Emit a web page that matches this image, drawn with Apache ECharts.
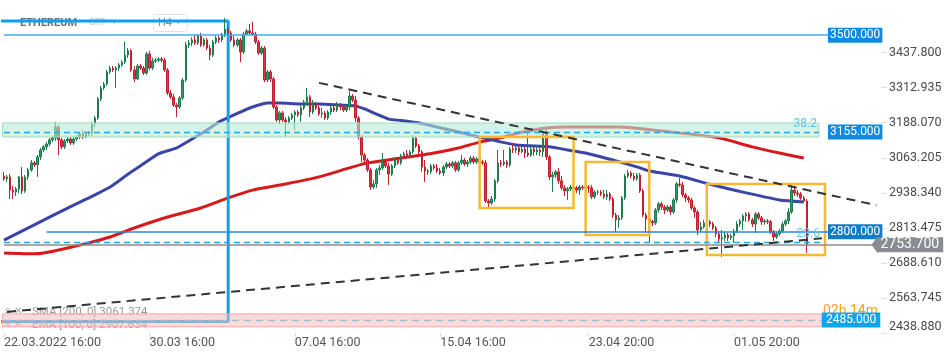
<!DOCTYPE html>
<html><head><meta charset="utf-8">
<script src="https://cdn.jsdelivr.net/npm/echarts@6/dist/echarts.min.js"></script>
<style>html,body{margin:0;padding:0;background:#fff}#c{width:950px;height:358px}</style>
</head><body><div id="c"></div>
<script>
// ---------- data ----------
const slotCount = 290; // H4 slots incl. empty area on the right
const tickLabels = ['22.03.2022 16:00','30.03 16:00','07.04 16:00','15.04 16:00','23.04 20:00','01.05 20:00'];
const yTicks = [2438.88,2563.745,2688.61,2813.475,2938.34,3063.205,3188.07,3312.935,3437.8];

const opens = [
2998,2988,2995,2948,2941,2952,2995,2945,2995,3020,
3045,3038,3066,3091,3102,3112,3127,3134,3173,3127,
3102,3123,3130,3116,3130,3137,3148,3137,3148,3152,
3184,3205,3273,3312,3326,3369,3383,3376,3383,3394,
3404,3429,3444,3376,3344,3390,3383,3365,3433,3383,
3408,3411,3415,3411,3376,3294,3280,3251,3244,3276,
3340,3465,3472,3483,3472,3497,3465,3483,3454,3429,
3476,3490,3483,3501,3522,3508,3483,3465,3483,3440,
3504,3515,3508,3504,3476,3436,3454,3340,3369,3344,
3244,3198,3223,3198,3191,3205,3216,3226,3216,3241,
3262,3280,3226,3255,3241,3219,3223,3205,3226,3241,
3233,3251,3244,3233,3244,3283,3269,3205,3137,3073,
3055,3020,2959,2970,3020,3027,3048,3034,3005,3034,
3055,3045,3070,3077,3070,3084,3134,3105,3084,3030,
3016,3013,3034,3027,3016,3009,3030,3041,3034,3045,
3020,3045,3055,3041,3048,3062,3048,3059,3048,3045,
2909,2902,2916,2981,3045,3041,3048,3038,3094,3091,
3098,3084,3094,3080,3073,3094,3084,3091,3084,3152,
3066,2995,3002,3013,2981,2956,2945,2952,2959,2956,
2948,2959,2956,2959,2956,2924,2941,2941,2934,2924,
2934,2916,2859,2842,2849,2920,2998,3009,2998,2988,
3002,2945,2859,2845,2835,2831,2877,2899,2888,2877,
2888,2870,2913,2970,2966,2931,2920,2913,2884,2870,
2806,2817,2831,2835,2827,2813,2792,2774,2778,2788,
2778,2785,2802,2827,2838,2856,2863,2842,2827,2863,
2849,2835,2838,2835,2799,2781,2792,2802,2827,2838,
2870,2948,2938,2934,2920,2909];
const closes = [
2988,2995,2948,2941,2952,2995,2945,2995,3020,3045,
3038,3066,3091,3102,3112,3127,3134,3173,3127,3102,
3123,3130,3116,3130,3137,3148,3137,3148,3152,3184,
3205,3273,3312,3326,3369,3383,3376,3383,3394,3404,
3429,3444,3376,3344,3390,3383,3365,3433,3383,3408,
3411,3415,3411,3376,3294,3280,3251,3244,3276,3340,
3465,3472,3483,3472,3497,3465,3483,3454,3429,3476,
3490,3483,3501,3522,3508,3483,3465,3483,3440,3504,
3515,3508,3504,3476,3436,3454,3340,3369,3344,3244,
3198,3223,3198,3191,3205,3216,3226,3216,3241,3262,
3280,3226,3255,3241,3219,3223,3205,3226,3241,3233,
3251,3244,3233,3244,3283,3269,3205,3137,3073,3055,
3020,2959,2970,3020,3027,3048,3034,3005,3034,3055,
3045,3070,3077,3070,3084,3134,3105,3084,3030,3016,
3013,3034,3027,3016,3009,3030,3041,3034,3045,3020,
3045,3055,3041,3048,3062,3048,3059,3048,3045,2909,
2902,2916,2981,3045,3041,3048,3038,3094,3091,3098,
3084,3094,3080,3073,3094,3084,3091,3084,3152,3066,
2995,3002,3013,2981,2956,2945,2952,2959,2956,2948,
2959,2956,2959,2956,2924,2941,2941,2934,2924,2934,
2916,2859,2842,2849,2920,2998,3009,2998,2988,3002,
2945,2859,2845,2835,2831,2877,2899,2888,2877,2888,
2870,2913,2970,2966,2931,2920,2913,2884,2870,2806,
2817,2831,2835,2827,2813,2792,2774,2778,2788,2778,
2785,2802,2827,2838,2856,2863,2842,2827,2863,2849,
2835,2838,2835,2799,2781,2792,2802,2827,2838,2870,
2948,2938,2934,2920,2909,2753.7];
const highs = [
3013,3002,3005,2963,2959,2998,3030,3002,3027,3055,
3052,3073,3098,3109,3119,3134,3141,3191,3180,3134,
3130,3137,3137,3137,3144,3155,3159,3155,3159,3191,
3212,3280,3319,3333,3376,3390,3390,3390,3401,3411,
3476,3454,3451,3390,3397,3397,3390,3440,3444,3419,
3419,3422,3422,3419,3383,3305,3290,3258,3283,3347,
3476,3483,3493,3501,3504,3508,3490,3490,3465,3483,
3497,3497,3508,3561,3529,3515,3497,3490,3490,3511,
3522,3540,3547,3511,3483,3461,3461,3376,3376,3351,
3251,3230,3230,3208,3212,3223,3233,3233,3248,3269,
3312,3287,3269,3262,3248,3241,3230,3233,3248,3248,
3262,3258,3251,3251,3301,3290,3283,3212,3144,3080,
3062,3027,2984,3027,3038,3080,3055,3045,3041,3062,
3062,3077,3084,3091,3091,3144,3141,3112,3091,3055,
3023,3041,3041,3041,3027,3038,3048,3048,3052,3052,
3052,3073,3062,3055,3070,3070,3066,3070,3055,3055,
2916,2927,2988,3091,3055,3091,3055,3102,3116,3105,
3105,3102,3102,3162,3102,3102,3105,3105,3169,3173,
3073,3013,3020,3027,2998,2966,2959,2966,2966,2963,
2966,2966,2966,2966,2966,2948,2948,2948,2948,2948,
2941,2924,2867,2859,2927,3005,3020,3016,3009,3009,
3009,2952,2867,2852,2842,2884,2906,2906,2895,2895,
2895,2920,2977,2991,2977,2938,2927,2920,2891,2877,
2835,2842,2842,2842,2835,2820,2802,2806,2799,2795,
2792,2810,2838,2845,2863,2870,2870,2849,2870,2870,
2856,2845,2845,2842,2806,2799,2810,2835,2845,2884,
2966,2963,2948,2941,2927,2916];
const lows = [
2981,2977,2916,2916,2927,2938,2934,2938,2984,3013,
3030,2995,3055,3084,3091,3105,3119,3123,3073,3094,
3094,3116,3109,3109,3123,3130,3130,3134,3141,3141,
3173,3198,3265,3305,3319,3362,3369,3312,3372,3387,
3397,3419,3369,3333,3340,3376,3358,3358,3376,3376,
3401,3404,3404,3369,3287,3273,3244,3208,3237,3269,
3333,3454,3461,3465,3465,3458,3458,3447,3411,3422,
3468,3472,3476,3493,3497,3476,3458,3458,3404,3433,
3497,3501,3497,3468,3429,3429,3333,3333,3333,3237,
3191,3184,3191,3137,3184,3198,3162,3208,3191,3233,
3255,3208,3219,3233,3212,3205,3198,3198,3216,3226,
3226,3233,3226,3226,3233,3262,3191,3127,3048,3045,
3013,2948,2952,2956,3002,3020,3027,2966,2998,3027,
3038,3038,3062,3062,3066,3077,3098,3077,3013,2977,
3002,3005,3020,3009,3002,2998,3023,3027,3027,3013,
3013,3038,3034,3030,3041,3041,3041,3041,3038,2902,
2884,2895,2906,2973,3030,3034,3027,3030,3080,3080,
3073,3080,3062,3066,3066,3070,3073,3070,3066,3055,
2984,2941,2991,2970,2948,2927,2913,2945,2948,2938,
2931,2948,2948,2938,2916,2916,2931,2927,2916,2913,
2909,2849,2799,2813,2842,2913,2991,2991,2981,2981,
2938,2852,2795,2763,2820,2824,2867,2877,2863,2870,
2859,2863,2902,2959,2924,2906,2902,2877,2849,2788,
2799,2810,2820,2817,2806,2781,2763,2710,2767,2767,
2770,2760,2795,2817,2806,2835,2835,2817,2795,2842,
2824,2824,2827,2792,2767,2774,2785,2795,2820,2827,
2863,2927,2924,2913,2902,2724];

// moving averages read at sampled bars: [bar index, value]
const ema100 = [[0,2770],[10,2824],[21,2884],[28,2920],[35,2959],[41,3005],[45,3034],[51,3077],[57,3098],[61,3123],[67,3162],[71,3191],[78,3226],[82,3244],[87,3258],[91,3258],[98,3255],[104,3255],[111,3251],[116,3248],[119,3237],[122,3223],[127,3201],[131,3196],[137,3187],[150,3155],[158,3134],[169,3109],[180,3102],[186,3091],[192,3080],[201,3055],[210,3027],[213,3016],[223,2998],[234,2966],[245,2938],[256,2913],[264,2906]];
const sma200 = [[0,2724],[10,2721],[13,2724],[21,2742],[28,2760],[35,2781],[43,2813],[54,2852],[65,2884],[74,2920],[82,2948],[93,2970],[104,2995],[114,3027],[120,3045],[131,3062],[142,3080],[150,3098],[157,3119],[164,3134],[170,3152],[179,3169],[186,3173],[203,3173],[220,3155],[236,3134],[247,3102],[256,3080],[264,3062]];

// drawings: bracket, trend lines, boxes, zones
const bracket = [[-1,3550],[74,3550],[74,2480],[-1,2480]];
const upperTrend = [[104,3330],[288,2894]];
const lowerTrend = [[1,2514],[270,2776]];
const boxes = [[157,3137,188,2884],[192,3048,213,2788],[232,2970,271,2717]];
const greenZone = [3187,3137,269];
const pinkZone = [2507,2461,270];
const lastPrice = 2753.7;
const legendTexts = ['SMA [200, 0] 3061.374','EMA [100, 0] 2907.634'];

// ---------- build ----------
const categories = [];
const t0 = Date.UTC(2022, 2, 22, 16, 0);
const p2 = n => String(n).padStart(2, '0');
for (let i = 0; i < slotCount; i++) {
  const d = new Date(t0 + i * 4 * 3600e3);
  const dm = p2(d.getUTCDate()) + '.' + p2(d.getUTCMonth() + 1);
  const hm = p2(d.getUTCHours()) + ':' + p2(d.getUTCMinutes());
  categories.push(i === 0 ? dm + '.' + d.getUTCFullYear() + ' ' + hm : dm + ' ' + hm);
}
const candleData = closes.map((c, i) => [opens[i], c, lows[i], highs[i]]);
const showTick = (i, v) => tickLabels.includes(v);

const boxLbl = (txt, bg, extra) => Object.assign({show: true, position: 'end', formatter: txt, backgroundColor: bg, color: '#fff',
  fontSize: 12, fontFamily: 'Roboto', padding: [2, 2, 1, 2], distance: 0}, extra || {});
const none = {show: false};
const cyan = '#1fa8ec';
const clear = 'rgba(0,0,0,0)';

const markLines = [
  [{coord: [0, 3500], lineStyle: {color: '#4aa8ee', width: 1.5, type: 'solid'}, label: boxLbl('3500.000', '#0c8ae6')}, {coord: [272, 3500]}],
  [{coord: [0, 3155], lineStyle: {color: cyan, width: 1.3, type: [6, 4]}, label: {show: true, position: 'insideEndTop', formatter: '38.2', color: '#5cc3f2', fontSize: 12, fontFamily: 'Roboto', distance: 2}}, {coord: [269, 3155]}],
  [{coord: [262, 3155], lineStyle: {color: clear, width: 1}, label: boxLbl('3155.000', '#0c8ae6')}, {coord: [272, 3155]}],
  [{coord: [14, 2800], lineStyle: {color: '#2a8ad4', width: 1.5, type: 'solid'}, label: boxLbl('2800.000', '#0f7cc4')}, {coord: [272, 2800]}],
  [{coord: [0, 2763], lineStyle: {color: cyan, width: 1.3, type: [6, 4]}, label: {show: true, position: 'insideEndTop', formatter: '23.6', color: '#5cc3f2', fontSize: 12, fontFamily: 'Roboto', distance: 2}}, {coord: [270, 2763]}],
  [{coord: [0, lastPrice], lineStyle: {color: '#8d8d8d', width: 1.5, type: 'solid'}, label: boxLbl('2753.700', '#878d92', {fontSize: 14, padding: [1, 4, 0, 4], distance: 3})}, {coord: [287, lastPrice]}],
  [{coord: [0, 2485], lineStyle: {color: '#a9b9d4', width: 1.3, type: [7, 5]}, label: boxLbl('2485.000', '#0ea5ea', {padding: [2, 4, 1, 4]})}, {coord: [270, 2485]}],
  [{coord: upperTrend[0], lineStyle: {color: '#2f3439', width: 2, type: [9, 6]}, label: none}, {coord: upperTrend[1]}],
  [{coord: lowerTrend[0], lineStyle: {color: '#2f3439', width: 2, type: [9, 6]}, label: none}, {coord: lowerTrend[1]}]
];
const markAreas = [
  [{yAxis: greenZone[0], itemStyle: {color: 'rgba(183,233,212,0.6)', borderColor: '#9fdcc2', borderWidth: 1}}, {xAxis: greenZone[2], yAxis: greenZone[1]}],
  [{yAxis: pinkZone[0], itemStyle: {color: 'rgba(248,188,188,0.55)', borderColor: '#f3a7a7', borderWidth: 1}}, {xAxis: pinkZone[2], yAxis: pinkZone[1]}]
].concat(boxes.map(b => [{coord: [b[0], b[1]], itemStyle: {color: clear, borderColor: '#f6b92f', borderWidth: 2.5}}, {coord: [b[2], b[3]]}]));

const chart = echarts.init(document.getElementById('c'), null, {renderer: 'canvas'});
chart.setOption({
  animation: false,
  backgroundColor: '#fff',
  grid: {left: 2.5, right: 69, top: 0, bottom: 25, containLabel: false},
  xAxis: {
    type: 'category', data: categories, boundaryGap: true,
    axisLine: {show: false},
    axisTick: {show: true, alignWithLabel: true, interval: showTick, length: 4, lineStyle: {color: '#dddddd'}},
    axisLabel: {interval: showTick, align: 'left', color: '#555', fontSize: 12.5, fontFamily: 'Roboto', margin: 3},
    splitLine: {show: false}
  },
  yAxis: {
    type: 'value', position: 'right', min: 2438.88, max: 3625.2,
    splitLine: {show: false}, axisLine: {show: false},
    axisTick: {show: true, customValues: yTicks, length: 6, lineStyle: {color: '#e2e2e2'}},
    axisLabel: {customValues: yTicks, formatter: v => v.toFixed(3), color: '#4a4a4a', fontSize: 12.5, fontFamily: 'Roboto', margin: 8, verticalAlignMinLabel: 'bottom'}
  },
  graphic: {elements: [
    {type: 'text', x: 20, y: 23, z: 0, style: {text: 'ETHEREUM', fill: '#6e6e6e', font: 'bold 11px Roboto', verticalAlign: 'middle'}},
    {type: 'text', x: 89, y: 23, z: 0, style: {text: 'CRT', fill: '#c2c2c2', font: '9px Roboto', verticalAlign: 'middle'}},
    {type: 'text', x: 112, y: 23, z: 0, style: {text: '▾', fill: '#d0d0d0', font: '8px sans-serif', verticalAlign: 'middle'}},
    {type: 'rect', z: 0, shape: {x: 153.5, y: 14.5, width: 34, height: 17, r: 3}, style: {fill: '#fff', stroke: '#e2e2e2', lineWidth: 1}},
    {type: 'text', x: 158, y: 23, z: 0, style: {text: 'H4', fill: '#888', font: '11px Roboto', verticalAlign: 'middle'}},
    {type: 'text', x: 176, y: 23, z: 0, style: {text: '▾', fill: '#c0c0c0', font: '9px sans-serif', verticalAlign: 'middle'}},
    {type: 'text', x: 5, y: 311, z: 0, style: {text: '≡ ✕', fill: '#a8a8a8', font: '10px sans-serif', verticalAlign: 'middle'}},
    {type: 'text', x: 5, y: 324, z: 0, style: {text: '≡ ✕', fill: '#a8a8a8', font: '10px sans-serif', verticalAlign: 'middle'}},
    {type: 'text', x: 32, y: 312, z: 0, style: {text: legendTexts[0], fill: '#9a9a9a', font: '11.5px Roboto', verticalAlign: 'middle'}},
    {type: 'text', x: 32, y: 325, z: 0, style: {text: legendTexts[1], fill: '#9a9a9a', font: '11.5px Roboto', verticalAlign: 'middle'}},
    {type: 'text', x: 823, y: 311, z: 0, style: {text: '02h 14m', fill: '#f5a020', font: '14px Roboto', verticalAlign: 'middle'}}
  ]},
  series: [
    {type: 'line', name: 'SMA 200', data: sma200, smooth: 0.2, symbol: 'none', z: 2, lineStyle: {color: '#d7191c', width: 3}},
    {type: 'line', name: 'EMA 100', data: ema100, smooth: 0.2, symbol: 'none', z: 2, lineStyle: {color: '#3b45a8', width: 3}},
    {type: 'line', name: 'bracket', data: bracket, symbol: 'none', z: 2, lineStyle: {color: '#0aa2ec', width: 3}},
    {type: 'candlestick', name: 'ETHEREUM', data: candleData, barWidth: 2, z: 3, large: false,
      itemStyle: {color: '#2e9c6a', color0: '#e03444', borderColor: '#1d7c4f', borderColor0: '#c1202f', borderWidth: 1}},
    {type: 'line', name: 'drawings', data: [], symbol: 'none',
      markArea: {z: 4, silent: true, label: {show: false}, data: markAreas},
      markLine: {z: 5, silent: true, symbol: ['none', 'none'], data: markLines},
      markPoint: {z: 6, silent: true, label: {show: false}, data: [
        {coord: [287, lastPrice], symbol: 'triangle', symbolRotate: 90, symbolSize: [16, 6], symbolOffset: [1, 0], itemStyle: {color: '#878d92'}}
      ]}}
  ]
});
</script></body></html>
